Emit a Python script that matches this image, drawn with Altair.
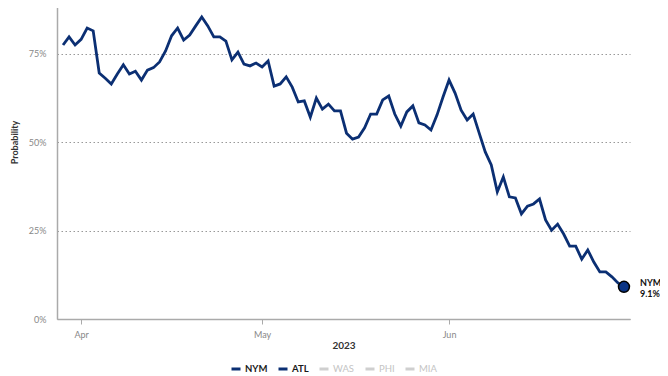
import altair as alt
import pandas as pd

# NYM playoff probability, daily from 2023-03-29 to 2023-06-30
nym_values = [
    77.4, 79.7, 77.4, 79.0, 82.2, 81.4, 69.5, 68.0, 66.4, 69.2,
    71.8, 69.2, 70.0, 67.5, 70.3, 71.0, 72.6, 75.7, 80.0, 82.2,
    78.8, 80.2, 82.8, 85.3, 82.8, 79.7, 79.7, 78.5, 73.2, 75.4,
    72.0, 71.5, 72.3, 71.2, 72.9, 65.8, 66.4, 68.4, 65.5, 61.3,
    61.6, 57.0, 62.4, 59.3, 60.7, 58.8, 58.8, 52.5, 50.8, 51.4,
    54.0, 57.9, 57.9, 61.9, 63.0, 57.9, 54.5, 58.5, 60.2, 55.4,
    54.8, 53.4, 57.6, 62.7, 67.5, 63.8, 59.0, 56.2, 57.9, 52.5,
    47.2, 43.5, 35.9, 40.1, 34.5, 34.2, 29.7, 31.9, 32.5, 33.9,
    28.0, 25.1, 26.8, 24.0, 20.6, 20.6, 16.9, 19.5, 16.1, 13.3,
    13.3, 11.9, 10.2, 9.1,
]
start_date = "2023-03-29"
teams = ["NYM", "ATL", "WAS", "PHI", "MIA"]
team_colors = ["#0b2f73", "#0b2f73", "#cfcfcf", "#cfcfcf", "#cfcfcf"]
month_ticks = [4, 5, 6]
y_ticks = [0, 0.25, 0.5, 0.75]

dates = pd.date_range(start_date, periods=len(nym_values), freq="D")
df = pd.DataFrame({
    "date": dates.strftime("%Y-%m-%d"),
    "prob": [v / 100 for v in nym_values],
    "team": "NYM",
})
last = df.tail(1).copy()

FONT = "Lato"

x_enc = alt.X(
    "date:T",
    scale=alt.Scale(type="utc", domain=[alt.DateTime(year=2023, month=3, date=28, utc=True),
                                        alt.DateTime(year=2023, month=7, date=1, utc=True)]),
    axis=alt.Axis(
        values=[alt.DateTime(year=2023, month=m, date=1, utc=True) for m in month_ticks],
        format="%b", title="2023", grid=False, tickSize=5, tickColor="#aaa",
        domainColor="#aaa", domainWidth=1.5, labelColor="#888", labelFontSize=9,
        labelFont=FONT, titleFont=FONT, titleFontSize=10, titleFontWeight="bold",
        titleColor="#333", labelPadding=6, titlePadding=1,
    ),
)
y_enc = alt.Y(
    "prob:Q",
    scale=alt.Scale(domain=[0, 1]),
    axis=alt.Axis(
        values=y_ticks, format=".0%", title="Probability", ticks=False,
        domainColor="#aaa", domainWidth=1.5, grid=True, gridDash=[1.5, 2.5],
        gridColor="#999", gridWidth=1, labelColor="#888", labelFontSize=9,
        labelFont=FONT, labelPadding=11, titleFont=FONT, titleFontSize=9,
        titleFontWeight="bold", titleColor="#333", titlePadding=9,
    ),
)

label_test = "indexof(['NYM','ATL'], datum.value) >= 0"
color_enc = alt.Color(
    "team:N",
    scale=alt.Scale(domain=teams, range=team_colors),
    legend=alt.Legend(
        title=None, orient="none", direction="horizontal",
        legendX=173, legendY=398, symbolType="stroke", symbolSize=81,
        symbolStrokeWidth=3, labelFont=FONT, labelFontSize=9.5,
        columnPadding=4, labelOffset=3,
        labelColor={"expr": label_test + " ? '#1a1a1a' : '#c4c4c4'"},
        labelFontWeight={"expr": label_test + " ? 'bold' : 'normal'"},
    ),
)

line = alt.Chart(df).mark_line(strokeWidth=2.8).encode(x=x_enc, y=y_enc, color=color_enc)

dot = alt.Chart(last).mark_point(
    filled=True, size=120, fill="#0b3485", stroke="#000", strokeWidth=1.5, opacity=1
).encode(x="date:T", y="prob:Q")

lab_team = alt.Chart(last).mark_text(
    align="left", dx=16, dy=-4, font=FONT, fontSize=9, fontWeight="bold", color="#111"
).encode(x="date:T", y="prob:Q", text="team:N")

lab_val = alt.Chart(last).mark_text(
    align="left", dx=16, dy=7, font=FONT, fontSize=9, fontWeight="bold", color="#111"
).encode(x="date:T", y="prob:Q", text=alt.Text("prob:Q", format=".1%"))

chart = alt.layer(line, dot, lab_team, lab_val).properties(
    width=573, height=354,
    autosize=alt.AutoSizeParams(type="none"),
    padding={"left": 49, "top": -43, "right": 30, "bottom": 55},
    background="white",
).configure_view(stroke=None)

chart.save("out.html", embed_options={"renderer": "svg", "actions": False})
